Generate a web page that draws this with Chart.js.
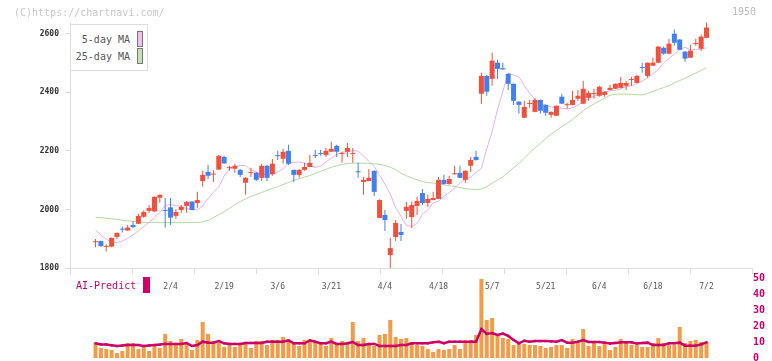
<!DOCTYPE html>
<html>
<head>
<meta charset="utf-8">
<script src="https://cdn.jsdelivr.net/npm/chart.js@4.4.1/dist/chart.umd.min.js"></script>
<style>
  html, body { margin: 0; padding: 0; background: #fff; }
  #wrap { position: relative; width: 772px; height: 361px; overflow: hidden; font-family: "DejaVu Sans Mono", monospace; }
  #wrap canvas { position: absolute; left: 0; top: 0; }
  .note { position: absolute; font-size: 10px; line-height: 12px; white-space: pre; }
  #copy { left: 14px; top: 7px; color: #c8c8c8; }
  #code { right: 16px; top: 6px; color: #bbb; }
  #maLegend { position: absolute; left: 70px; top: 24px; width: 72px; height: 39px; padding: 6px 4px 0 0; border: 1px solid #ddd; background: #fff; }
  #aiLegend { position: absolute; left: 76px; top: 277px; }
  .item { display: flex; align-items: center; justify-content: flex-end; height: 16px; margin-bottom: 1px; font-size: 10px; white-space: pre; }
  .item i { display: block; margin-left: 7px; }
  #maLegend .item { color: #555; }
  #maLegend .item i { width: 4px; height: 14px; border: 1px solid #777; }
  #aiLegend .item { color: #cc0066; justify-content: flex-start; }
  #aiLegend .item i { width: 7px; height: 16px; }
</style>
</head>
<body>
<div id="wrap">
  <canvas id="price" width="772" height="361"></canvas>
  <canvas id="volume" width="772" height="372"></canvas>
  <div class="note" id="copy">(C)https://chartnavi.com/</div>
  <div class="note" id="code">1950</div>
  <div id="maLegend"></div>
  <div id="aiLegend"></div>
</div>
<script>
// daily candles, oldest first
const opens = [1888,1892,1872,1873,1906,1933,1928,1947,1951,1975,
  1995,1993,2040,1998,2007,1978,1998,2012,2027,2022,
  2097,2128,2119,2136,2179,2141,2139,2135,2091,2124,
  2125,2108,2149,2121,2184,2173,2200,2135,2118,2135,
  2145,2184,2191,2186,2197,2217,2189,2197,2189,2129,
  2094,2097,2132,1971,1981,1844,1906,1923,1995,1974,
  2012,2056,2022,2032,2036,2101,2087,2120,2125,2101,
  2149,2179,2395,2456,2446,2501,2482,2463,2429,2368,
  2313,2360,2333,2374,2357,2323,2320,2385,2356,2357,
  2378,2361,2381,2394,2388,2391,2408,2412,2415,2422,
  2442,2432,2485,2456,2491,2501,2552,2532,2600,2580,
  2539,2518,2565,2549,2586];
const highs = [1899,1894,1881,1904,1921,1942,1947,1960,1985,1997,
  2015,2045,2051,2039,2039,2001,2015,2029,2028,2060,
  2132,2152,2134,2186,2183,2149,2156,2138,2111,2142,
  2128,2156,2152,2172,2200,2207,2221,2136,2138,2159,
  2186,2203,2203,2210,2231,2221,2197,2227,2210,2159,
  2111,2138,2133,2035,1998,1903,1964,1950,2026,2026,
  2043,2070,2050,2060,2111,2118,2114,2149,2149,2133,
  2179,2200,2467,2460,2535,2511,2501,2464,2430,2369,
  2371,2374,2381,2375,2358,2334,2355,2395,2364,2405,
  2408,2439,2405,2412,2422,2403,2426,2430,2453,2439,
  2453,2460,2501,2502,2518,2557,2556,2583,2614,2581,
  2540,2562,2583,2597,2638];
const lows = [1871,1872,1856,1871,1898,1921,1927,1937,1950,1972,
  1988,1992,2023,1938,1947,1968,1989,1989,1997,2005,
  2078,2104,2094,2135,2156,2132,2125,2111,2050,2111,
  2097,2097,2097,2115,2169,2156,2152,2094,2108,2132,
  2144,2176,2183,2179,2196,2179,2159,2179,2159,2108,
  2050,2096,2046,1970,1926,1795,1892,1892,1968,1937,
  1981,2015,2009,2031,2035,2084,2084,2118,2107,2091,
  2128,2166,2361,2388,2422,2446,2477,2408,2357,2327,
  2312,2347,2332,2327,2320,2313,2319,2360,2344,2355,
  2371,2360,2371,2378,2385,2385,2407,2411,2414,2408,
  2422,2431,2467,2450,2490,2500,2528,2530,2559,2544,
  2504,2517,2559,2542,2585];
const closes = [1889,1875,1874,1903,1920,1931,1938,1940,1978,1991,
  2005,2043,2050,1995,1972,1991,2009,2026,1998,2032,
  2118,2115,2121,2183,2157,2143,2149,2118,2108,2126,
  2101,2149,2108,2156,2182,2197,2156,2118,2135,2145,
  2159,2182,2189,2200,2207,2197,2191,2210,2191,2127,
  2101,2108,2060,2032,1964,1868,1954,1913,2009,2015,
  2029,2022,2036,2039,2101,2087,2104,2122,2108,2132,
  2169,2169,2456,2402,2508,2480,2478,2429,2371,2357,
  2350,2362,2374,2337,2330,2333,2354,2361,2358,2374,
  2388,2412,2398,2396,2419,2402,2415,2429,2432,2432,
  2444,2456,2483,2501,2501,2556,2532,2566,2569,2545,
  2515,2542,2567,2590,2621];
const ma5 = [1930,1913,1898,1889,1887,1892,1901,1913,1927,1942,
  1956,1970,1991,2013,2017,2013,2010,2003,1999,1999,
  2011,2037,2058,2077,2114,2139,2144,2150,2150,2135,
  2128,2120,2120,2118,2128,2139,2159,2160,2162,2158,
  2150,2143,2148,2162,2175,2188,2195,2197,2201,2199,
  2183,2164,2147,2117,2086,2053,2006,1976,1946,1942,
  1952,1984,1998,2022,2028,2045,2057,2073,2090,2104,
  2110,2127,2140,2207,2266,2341,2403,2465,2459,2453,
  2423,2397,2374,2363,2356,2350,2347,2346,2343,2347,
  2356,2367,2378,2386,2393,2402,2405,2406,2412,2419,
  2422,2430,2438,2449,2463,2477,2500,2515,2531,2545,
  2554,2545,2547,2547,2552];
const ma25 = [1973,1972,1970,1968,1966,1963,1961,1959,1957,1956,
  1955,1955,1955,1955,1955,1955,1955,1955,1956,1956,
  1957,1963,1972,1982,1992,2004,2016,2027,2036,2044,
  2051,2058,2065,2072,2078,2085,2092,2099,2105,2110,
  2116,2123,2130,2137,2144,2149,2154,2157,2158,2158,
  2158,2157,2156,2154,2150,2144,2136,2124,2115,2108,
  2101,2095,2092,2090,2088,2084,2081,2078,2075,2071,
  2069,2067,2070,2078,2090,2100,2112,2127,2142,2157,
  2175,2193,2210,2226,2242,2257,2270,2283,2294,2307,
  2322,2337,2350,2360,2370,2380,2390,2393,2394,2394,
  2393,2392,2391,2396,2403,2410,2416,2423,2432,2440,
  2448,2457,2466,2475,2484];
const volume = [9.4,6.3,5.6,5.0,3.1,4.4,9.4,9.4,5.6,6.9,
  4.4,8.1,6.3,15,10.6,8.8,11.9,8.8,5.0,11.3,
  22.5,15,9.4,9.4,6.9,8.1,6.9,8.8,9.4,6.3,
  10.6,10.6,8.1,11.3,11.3,13.1,11.3,9.4,7.5,11.3,
  11.3,10,8.8,7.5,12.5,8.8,10.6,9.4,22.5,10.6,
  12.5,8.8,7.5,14.4,15,23.8,13.1,11.9,12.5,10,
  8.1,7.5,5.6,3.8,5.6,5,5.6,8.1,5.6,9.4,
  11.3,14.4,49.4,23.8,25,15,12.5,11.9,8.1,9.4,
  8.8,8.1,8.1,7.5,6.3,6.9,8.1,8.1,6.3,11.9,
  9.4,18.1,7.5,9.4,7.5,8.8,5,6.9,11.9,9.4,
  8.1,8.1,6.9,6.9,9.4,12.5,9.4,8.1,8.1,19.4,
  9.4,10.6,11.3,10,10];
const aiPredict = [9.2,8.5,8.5,8.0,7.5,7.8,8.1,8.1,8.1,7.5,
  7.8,8.1,8.4,8.8,8.8,8.8,8.8,9.4,7.5,8.1,
  10.2,9.6,9.6,10.6,9.2,8.8,8.8,8.8,9.4,9.4,
  9.4,9.4,10.2,10.2,10.2,10.2,11.0,9.2,9.2,9.2,
  11.0,10.2,9.2,9.2,10.2,8.8,8.8,9.2,10.0,8.1,
  8.1,8.8,8.8,7.5,7.5,7.5,7.5,8.1,8.1,9.2,
  9.2,9.2,9.2,9.8,10.2,9.2,10.2,10.2,10.2,10.2,
  10.2,10.2,18.1,15.0,15.6,14.4,15.3,13.8,11.3,9.2,
  10.8,10.2,10.6,10.6,10.6,10.4,10.2,11.2,9.6,9.6,
  10.2,11.2,10.0,10.0,10.0,9.6,9.0,9.4,9.8,9.8,
  9.8,9.0,9.4,9.6,8.1,8.1,8.1,9.2,9.2,9.6,
  7.7,7.7,7.7,8.5,9.8];
// date labels sit under every 10th candle
const tickIdx = [14,24,34,44,54,64,74,84,94,104,114];
const tickLabels = ['2/4','2/19','3/6','3/21','4/4','4/18','5/7','5/21','6/4','6/18','7/2'];
const priceTicks = [1800,2000,2200,2400,2600];

const UP = '#f0503c';
const DOWN = '#4080f0';
const X_MIN = -4.76;
const X_MAX = 122.49;
const FONT = "'DejaVu Sans Mono', monospace";

Chart.defaults.font.family = FONT;

const idx = closes.map((c, i) => i);
const candleColor = closes.map((c, i) => (c >= opens[i] ? UP : DOWN));
const pts = arr => arr.map((v, i) => ({x: i, y: v}));

// legend written as html next to the canvas
const htmlLegend = {
  id: 'htmlLegend',
  afterUpdate(chart, args, opts) {
    const box = document.getElementById(opts.containerID);
    box.innerHTML = '';
    chart.data.datasets.forEach(ds => {
      if (ds.type !== 'line') return;
      const row = document.createElement('div');
      row.className = 'item';
      const txt = document.createElement('span');
      txt.textContent = ds.label;
      const sw = document.createElement('i');
      sw.style.background = ds.backgroundColor;
      row.append(txt, sw);
      box.append(row);
    });
  }
};

new Chart(document.getElementById('price'), {
  type: 'bar',
  plugins: [htmlLegend],
  data: {
    datasets: [
      {
        type: 'line',
        label: '5-day MA',
        data: pts(ma5),
        borderColor: '#e6b0ee',
        backgroundColor: '#f0c0f0',
        borderWidth: 1,
        pointRadius: 0,
        order: 3,
      },
      {
        type: 'line',
        label: '25-day MA',
        data: pts(ma25),
        borderColor: '#b2d9a2',
        backgroundColor: '#c4e2b4',
        borderWidth: 1,
        pointRadius: 0,
        order: 3,
      },
      {
        label: 'wick',
        data: idx.map(i => ({x: i, y: [lows[i], highs[i]]})),
        backgroundColor: candleColor,
        barThickness: 1,
        grouped: false,
        inflateAmount: 0,
        order: 2,
      },
      {
        label: 'body',
        data: idx.map(i => ({x: i, y: [opens[i], closes[i]]})),
        backgroundColor: candleColor,
        barThickness: 5,
        minBarLength: 1,
        grouped: false,
        inflateAmount: 0,
        order: 1,
      },
    ],
  },
  options: {
    responsive: false,
    animation: false,
    devicePixelRatio: 1,
    events: [],
    layout: {padding: {left: 0, right: 20, top: 22, bottom: 67}},
    plugins: {
      legend: {display: false},
      tooltip: {enabled: false},
      htmlLegend: {containerID: 'maLegend'},
    },
    scales: {
      x: {
        type: 'linear',
        min: X_MIN,
        max: X_MAX,
        offset: false,
        grid: {drawOnChartArea: false, offset: false, color: '#ddd', tickLength: 6},
        border: {color: '#ddd'},
        ticks: {display: false},
        afterBuildTicks: s => {
          s.ticks = Array.from({length: 12}, (_, k) => ({value: X_MIN + k * (X_MAX - X_MIN) / 11}));
        },
        afterFit: s => { s.height = 6; },
      },
      xd: {
        type: 'linear',
        position: 'bottom',
        min: X_MIN,
        max: X_MAX,
        offset: false,
        grid: {display: false, drawTicks: false},
        border: {display: false},
        ticks: {
          autoSkip: false,
          maxRotation: 0,
          padding: 8,
          color: '#555',
          font: {size: 8},
          callback: (v, i) => tickLabels[i],
        },
        afterBuildTicks: s => { s.ticks = tickIdx.map(v => ({value: v})); },
        afterFit: s => { s.height = 20; },
      },
      y: {
        position: 'left',
        min: 1800,
        max: 2640,
        grid: {drawOnChartArea: false, color: '#ddd', tickLength: 5},
        border: {color: '#ddd'},
        ticks: {padding: 6, color: '#333', font: {size: 8, weight: 'bold'}, callback: v => String(v)},
        afterBuildTicks: s => { s.ticks = priceTicks.map(v => ({value: v})); },
        afterFit: s => { s.width = 70; },
      },
    },
  },
});

new Chart(document.getElementById('volume'), {
  type: 'bar',
  plugins: [htmlLegend],
  data: {
    datasets: [
      {
        type: 'line',
        label: 'AI-Predict',
        data: pts(aiPredict),
        borderColor: '#cc0066',
        backgroundColor: '#cc0066',
        borderWidth: 2.5,
        pointStyle: 'rect',
        pointRadius: 1.6,
        pointBorderWidth: 0,
        order: 1,
      },
      {
        label: 'Volume',
        data: pts(volume),
        backgroundColor: '#f29b48',
        barThickness: 4,
        inflateAmount: 0,
        order: 2,
      },
    ],
  },
  options: {
    responsive: false,
    animation: false,
    devicePixelRatio: 1,
    events: [],
    layout: {padding: {left: 70, right: 0, top: 278, bottom: 14}},
    plugins: {
      legend: {display: false},
      tooltip: {enabled: false},
      htmlLegend: {containerID: 'aiLegend'},
    },
    scales: {
      x: {type: 'linear', min: X_MIN, max: X_MAX, offset: false, display: false},
      y: {
        position: 'right',
        min: 0,
        max: 50,
        grid: {display: false, drawTicks: false},
        border: {display: false},
        ticks: {stepSize: 10, padding: 1, color: '#cc0066', font: {size: 10, weight: 'bold'}},
        afterFit: s => { s.width = 20; },
      },
    },
  },
});
</script>
</body>
</html>
